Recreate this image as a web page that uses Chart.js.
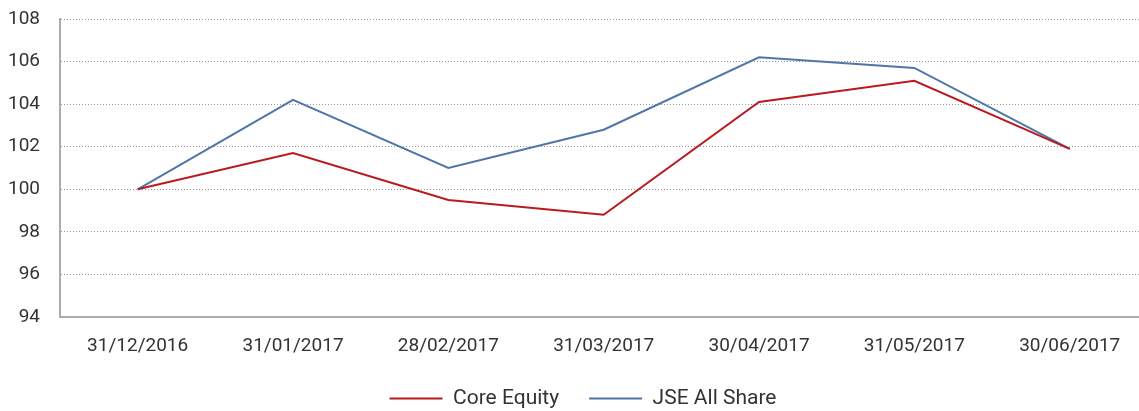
<!DOCTYPE html>
<html>
<head>
<meta charset="utf-8">
<script src="https://cdn.jsdelivr.net/npm/chart.js@4"></script>
<style>
  html, body { margin: 0; padding: 0; background: #fff; overflow: hidden; }
  #wrap { width: 1166px; height: 411px; }
</style>
</head>
<body>
<div id="wrap"><canvas id="chart" width="1166" height="411"></canvas></div>
<script>
const dates = ["31/12/2016", "31/01/2017", "28/02/2017", "31/03/2017", "30/04/2017", "31/05/2017", "30/06/2017"];
const coreEquity = [100, 101.7, 99.5, 98.8, 104.1, 105.1, 101.9];
const jseAllShare = [100, 104.2, 101.0, 102.8, 106.2, 105.7, 101.9];
const yTicks = [94, 96, 98, 100, 102, 104, 106, 108];

const font = "Roboto, 'DejaVu Sans', sans-serif";

function toPoints(values) {
  return values.map((v, i) => ({ x: i, y: v }));
}

new Chart(document.getElementById("chart"), {
  type: "line",
  data: {
    datasets: [
      {
        label: "Core Equity",
        data: toPoints(coreEquity),
        borderColor: "#BA1A1E",
        backgroundColor: "#BA1A1E",
        borderWidth: 2,
        pointRadius: 0,
        tension: 0
      },
      {
        label: "JSE All Share",
        data: toPoints(jseAllShare),
        borderColor: "#4F76A8",
        backgroundColor: "#4F76A8",
        borderWidth: 2,
        pointRadius: 0,
        tension: 0
      }
    ]
  },
  options: {
    responsive: false,
    animation: false,
    layout: { padding: { top: 19, left: 0, right: 0, bottom: -8 } },
    plugins: {
      tooltip: { enabled: false },
      legend: {
        position: "bottom",
        labels: {
          usePointStyle: true,
          pointStyle: "line",
          pointStyleWidth: 53,
          padding: 30,
          color: "#333",
          font: { family: font, size: 21 }
        }
      }
    },
    scales: {
      x: {
        type: "linear",
        min: -0.5,
        max: 6.62,
        grid: { display: false },
        border: { display: true, color: "#acacac", width: 2 },
        afterFit: (scale) => { scale.height = 41; },
        ticks: {
          stepSize: 1,
          includeBounds: false,
          autoSkip: false,
          maxRotation: 0,
          padding: 10,
          color: "#333",
          font: { family: font, size: 19 },
          callback: (v) => Number.isInteger(v) && dates[v] ? dates[v] : null
        }
      },
      y: {
        min: yTicks[0],
        max: yTicks[yTicks.length - 1],
        afterFit: (scale) => {
          scale.width = 60;
          scale.paddingTop = 0;
          scale.paddingBottom = 0;
        },
        afterBuildTicks: (scale) => { scale.ticks = yTicks.map(v => ({ value: v })); },
        grid: {
          color: "#999",
          lineWidth: 1,
          drawTicks: false
        },
        border: { display: true, color: "#acacac", width: 2, dash: [1, 2] },
        ticks: {
          padding: 20,
          color: "#333",
          font: { family: font, size: 19 }
        }
      }
    }
  }
});
</script>
</body>
</html>
